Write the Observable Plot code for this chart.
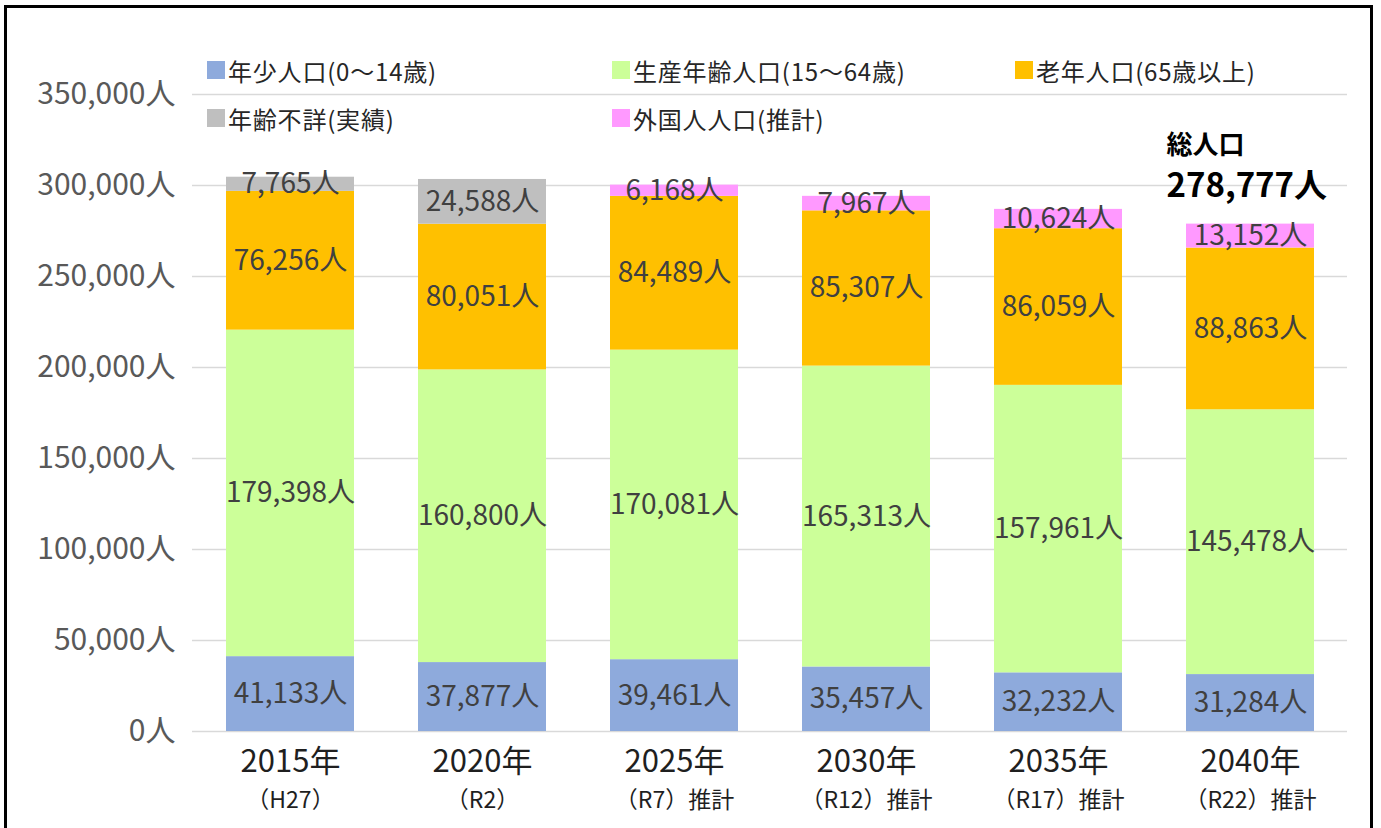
<!DOCTYPE html>
<html>
<head>
<meta charset="utf-8">
<script src="https://cdn.jsdelivr.net/npm/d3@7"></script>
<script src="https://cdn.jsdelivr.net/npm/@observablehq/plot@0.6"></script>
<style>
  html, body { margin: 0; padding: 0; background: #fff; }
  body { width: 1381px; height: 828px; overflow: hidden; font-family: "Noto Sans CJK JP", "Noto Sans", sans-serif; }
  #wrap { position: relative; width: 1381px; height: 828px; }
  #frame { position: absolute; left: 4px; top: 5px; width: 1369px; height: 840px; border: 3px solid #000; box-sizing: border-box; pointer-events: none; }
  #legend { position: absolute; left: 0; top: 0; width: 1381px; height: 140px; pointer-events: none; }
  .item { position: absolute; display: flex; align-items: center; font-size: 24px; letter-spacing: 0.8px; color: #262626; white-space: nowrap; }
  .sw { width: 18px; height: 18px; margin-right: 3px; }
</style>
</head>
<body>
<div id="wrap">
  <div id="chart"></div>
  <div id="legend"></div>
  <div id="frame"></div>
</div>
<script>
const categories = ["2015年", "2020年", "2025年", "2030年", "2035年", "2040年"];
const subLabels = ["（H27）", "（R2）", "（R7）推計", "（R12）推計", "（R17）推計", "（R22）推計"];
const series = ["年少人口(0～14歳)", "生産年齢人口(15～64歳)", "老年人口(65歳以上)", "年齢不詳(実績)", "外国人人口(推計)"];
const young   = [41133, 37877, 39461, 35457, 32232, 31284];
const working = [179398, 160800, 170081, 165313, 157961, 145478];
const elderly = [76256, 80051, 84489, 85307, 86059, 88863];
const unknown = [7765, 24588, 0, 0, 0, 0];
const foreign = [0, 0, 6168, 7967, 10624, 13152];
const colors = ["#8eaadc", "#ccff99", "#ffc000", "#bfbfbf", "#ff99ff"];
const yTicks = [0, 50000, 100000, 150000, 200000, 250000, 300000, 350000];
const totalTitle = "総人口";

const seriesValues = [young, working, elderly, unknown, foreign];
const rows = [];
categories.forEach((c, i) => {
  series.forEach((s, k) => {
    const v = seriesValues[k][i];
    if (v > 0) rows.push({category: c, series: s, value: v});
  });
});
const totals = categories.map((c, i) => ({category: c, total: d3.sum(seriesValues, a => a[i])}));
const lastTotal = [totals[totals.length - 1]];
const fmt = d3.format(",");
const font = "Noto Sans CJK JP";

const chart = Plot.plot({
  width: 1381,
  height: 828,
  marginLeft: 192,
  marginRight: 34,
  marginTop: 94,
  marginBottom: 97,
  style: {fontFamily: font, background: "transparent", overflow: "visible"},
  x: {domain: categories, paddingInner: 0.335, paddingOuter: 0.1675, axis: null},
  y: {domain: [0, 350000], axis: null},
  color: {domain: series, range: colors},
  marks: [
    Plot.ruleY(yTicks, {stroke: "#d9d9d9", strokeWidth: 1.5}),
    Plot.barY(rows, {x: "category", y: "value", fill: "series", z: "series", order: series}),
    Plot.text(rows, Plot.stackY({x: "category", y: "value", z: "series", order: series,
      text: d => fmt(d.value) + "人", fill: "#404040", fontSize: 28, letterSpacing: "0.5px"})),
    Plot.axisY({ticks: yTicks, tickFormat: d => fmt(d) + "人", tickSize: 0, tickPadding: 17,
      fontSize: 30, fill: "#595959", label: null}),
    Plot.text(categories, {x: d => d, frameAnchor: "bottom", dy: 40, fontSize: 31, fill: "#1f1f1f", text: d => d}),
    Plot.text(categories, {x: d => d, frameAnchor: "bottom", dy: 76, fontSize: 23, fill: "#1f1f1f",
      text: (d, i) => subLabels[i]}),
    Plot.text(lastTotal, {x: "category", y: "total", text: () => totalTitle, textAnchor: "start",
      dx: -84, dy: -78, fontSize: 26, fontWeight: "bold", fill: "#000"}),
    Plot.text(lastTotal, {x: "category", y: "total", text: d => fmt(d.total) + "人", textAnchor: "start",
      dx: -84, dy: -38, fontSize: 33, fontWeight: "bold", fill: "#000", letterSpacing: "1px"})
  ]
});
document.getElementById("chart").appendChild(chart);

// legend
const legendPos = [[207, 70], [612, 70], [1015, 70], [207, 118], [612, 118]];
const legend = document.getElementById("legend");
series.forEach((s, k) => {
  const el = document.createElement("div");
  el.className = "item";
  el.style.left = legendPos[k][0] + "px";
  el.style.top = (legendPos[k][1] - 17) + "px";
  el.style.height = "34px";
  el.innerHTML = `<span class="sw" style="background:${colors[k]}"></span><span>${s}</span>`;
  legend.appendChild(el);
});
</script>
</body>
</html>
